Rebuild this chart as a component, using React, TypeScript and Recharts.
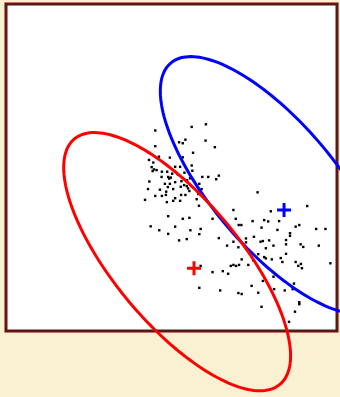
import { ReferenceArea, Scatter, ScatterChart, XAxis, YAxis } from "recharts";

const WIDTH = 340;
const HEIGHT = 397;

// plot units: the white frame spans 0..10 on both axes
const X_DOMAIN: [number, number] = [-0.181, 10.09];
const Y_DOMAIN: [number, number] = [-2.018, 10.12];

// observed samples
const sampleX = [
  4.51, 5.61, 6.04, 5.23, 5.34, 5.42, 6.03, 4.51, 6.31, 5.65,
  4.32, 4.45, 4.62, 4.95, 5.34, 5.61, 4.4, 4.47, 4.43, 4.55,
  5.11, 5.26, 4.71, 4.87, 5.02, 5.39, 5.63, 4.7, 4.9, 4.98,
  4.93, 5.19, 5.93, 6.11, 6.43, 6.35, 4.33, 4.8, 4.95, 5.11,
  5.3, 5.47, 5.56, 5.84, 4.29, 4.65, 4.89, 5.05, 5.28, 5.38,
  5.46, 5.5, 5.91, 5.81, 4.51, 4.71, 4.83, 4.84, 5.11, 5.05,
  5.29, 5.42, 5.54, 4.2, 4.86, 5.26, 5.76, 5.83, 6.87, 4.9,
  5.34, 5.54, 6.24, 6.94, 4.37, 4.63, 5.11, 4.9, 5.57, 5.88,
  5.84, 5.23, 5.46, 6.43, 6.68, 6.87, 7.02, 5.88, 6.24, 6.55,
  6.71, 6.79, 6.87, 6.95, 7.04, 5.84, 6.47, 7.02, 7.03, 7.11,
  7.45, 7.8, 7.92, 8.25, 7.72, 8.2, 8.75, 8.86, 9.37, 9.65,
  8.58, 8.58, 7.25, 7.49, 7.25, 7.69, 7.76, 7.95, 8.46, 8.46,
  8.08, 7.85, 8.9, 8.98, 9.45, 7.62, 7.8, 7.85, 8.03, 8.3,
  8.35, 8.46, 8.75, 8.83, 8.91, 8.94, 9.8, 7.12, 7.32, 7.47,
  8.08, 8.1, 7.42, 7.76, 8.42, 8.7, 8.66, 7.62, 7.12, 8.86,
  8.86, 7.72, 8.73, 8.55, 7.6, 8.0, 9.1,
];
const sampleY = [
  6.13, 6.24, 6.32, 5.77, 5.74, 5.85, 5.82, 5.65, 5.62, 5.45,
  5.23, 5.15, 5.33, 5.3, 5.31, 5.06, 5.01, 4.94, 4.89, 4.92,
  5.02, 5.02, 4.87, 4.87, 4.81, 4.84, 4.9, 4.71, 4.71, 4.69,
  4.66, 4.79, 4.71, 4.71, 4.75, 4.64, 4.57, 4.5, 4.5, 4.55,
  4.58, 4.61, 4.67, 4.5, 4.34, 4.32, 4.4, 4.34, 4.41, 4.46,
  4.43, 4.36, 4.34, 4.19, 4.13, 4.13, 4.16, 4.26, 4.06, 3.98,
  4.16, 4.16, 4.28, 4.01, 3.94, 3.98, 4.03, 3.83, 3.7, 3.51,
  3.43, 3.46, 3.43, 3.43, 3.2, 3.08, 3.19, 2.97, 3.08, 3.12,
  2.96, 2.77, 2.81, 2.84, 2.61, 2.73, 2.56, 1.99, 1.8, 1.83,
  1.75, 1.99, 2.02, 1.99, 2.02, 1.32, 1.24, 1.16, 3.24, 3.24,
  3.36, 3.39, 3.35, 3.36, 3.16, 3.09, 3.19, 3.24, 3.12, 3.12,
  2.99, 2.91, 2.83, 2.88, 2.71, 2.73, 2.75, 2.77, 2.78, 2.65,
  2.61, 2.53, 2.65, 2.57, 2.61, 2.35, 2.26, 2.22, 2.19, 2.23,
  2.11, 2.36, 2.11, 1.99, 2.05, 1.92, 2.07, 2.19, 2.02, 2.16,
  1.66, 1.28, 1.38, 1.53, 1.24, 1.45, 1.28, 1.17, 1.13, 0.88,
  0.82, 0.74, 0.59, 0.28, 4.24, 3.66, 3.82,
];

// component means
const meanX = [8.4, 5.68];
const meanY = [3.7, 1.92];
const meanColors = ["#0000ff", "#ff0000"];

// contour ellipses: centre, semi-axes, rotation in degrees
const ellipseCx = [8.09, 5.17];
const ellipseCy = [4.46, 2.12];
const ellipseRx = [4.86, 4.87];
const ellipseRy = [1.89, 1.9];
const ellipseAngle = [-50.3, -50.5];
const ellipseColors = ["#0000ff", "#ff0000"];

const samples = sampleX.map((x, i) => ({ x, y: sampleY[i] }));

function ellipsePath(i: number) {
  const phi = (ellipseAngle[i] * Math.PI) / 180;
  const pts: { x: number; y: number }[] = [];
  for (let deg = 0; deg <= 360; deg += 2) {
    const t = (deg * Math.PI) / 180;
    const u = ellipseRx[i] * Math.cos(t);
    const v = ellipseRy[i] * Math.sin(t);
    pts.push({
      x: ellipseCx[i] + u * Math.cos(phi) - v * Math.sin(phi),
      y: ellipseCy[i] + u * Math.sin(phi) + v * Math.cos(phi),
    });
  }
  return pts;
}

const SquareDot = (p: any) => (
  <rect x={p.cx - 1.2} y={p.cy - 1.2} width={2.4} height={2.4} fill="#000" />
);

const NoDot = () => <g />;

const crossShape = (color: string) => (p: any) => (
  <path
    d={`M${p.cx - 7},${p.cy}H${p.cx + 7}M${p.cx},${p.cy - 7}V${p.cy + 7}`}
    stroke={color}
    strokeWidth={3}
    fill="none"
  />
);

export default function App() {
  return (
    <div style={{ width: WIDTH, height: HEIGHT, background: "#faf0d2" }}>
      <style>{`body{margin:0}`}</style>
      <ScatterChart
        width={WIDTH}
        height={HEIGHT}
        margin={{ top: 0, right: 0, bottom: 0, left: 0 }}
      >
        <XAxis type="number" dataKey="x" domain={X_DOMAIN} allowDataOverflow hide />
        <YAxis type="number" dataKey="y" domain={Y_DOMAIN} allowDataOverflow hide />
        <ReferenceArea
          x1={0}
          x2={10}
          y1={0}
          y2={10}
          fill="#ffffff"
          fillOpacity={1}
          stroke="#800000"
          strokeWidth={3}
        />
        <ReferenceArea
          x1={0}
          x2={10}
          y1={0}
          y2={10}
          fill="none"
          stroke="#333333"
          strokeWidth={1}
        />
        <Scatter data={samples} shape={SquareDot} isAnimationActive={false} />
        {ellipseColors.map((c, i) => (
          <Scatter
            key={`ell-${i}`}
            data={ellipsePath(i)}
            shape={NoDot}
            line={{ stroke: c, strokeWidth: 3, fill: "none" }}
            isAnimationActive={false}
          />
        ))}
        {meanColors.map((c, i) => (
          <Scatter
            key={`mean-${i}`}
            data={[{ x: meanX[i], y: meanY[i] }]}
            shape={crossShape(c)}
            isAnimationActive={false}
          />
        ))}
      </ScatterChart>
    </div>
  );
}
